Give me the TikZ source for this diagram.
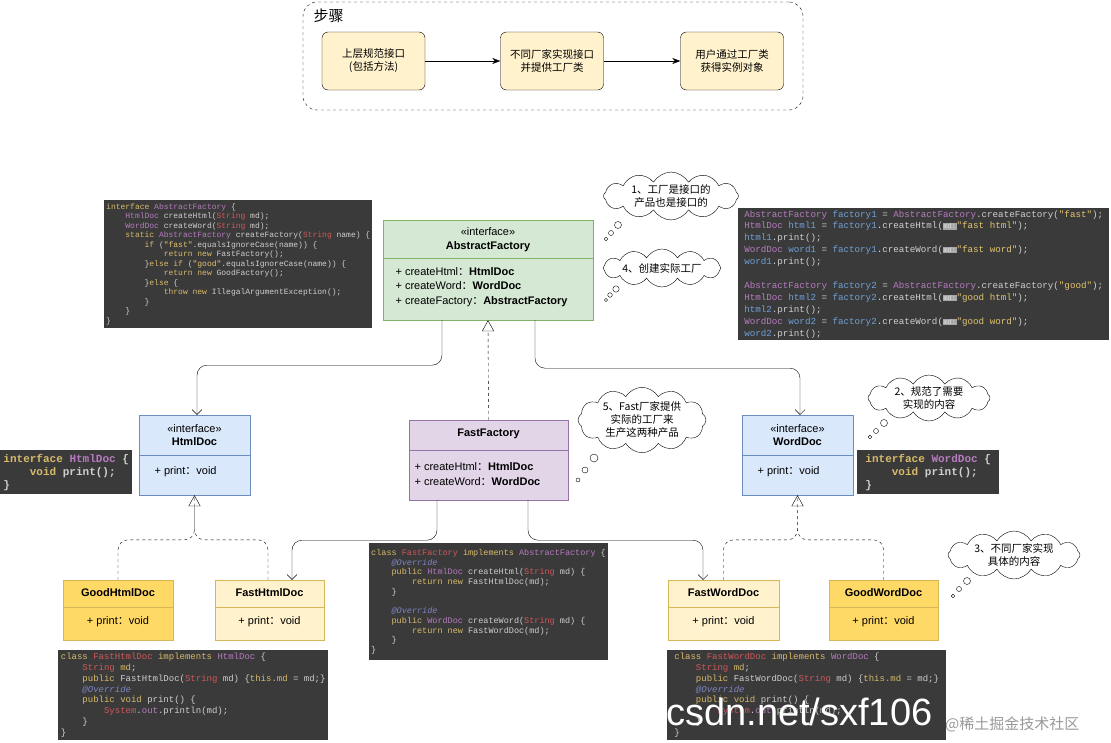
\documentclass[tikz,border=0pt]{standalone}
\usepackage{fontspec}
\setmainfont{Liberation Sans}
\setmonofont{Liberation Mono}
\newfontfamily\cjk{Noto Sans CJK SC}
\usetikzlibrary{shapes.symbols,arrows.meta}
\definecolor{yel}{HTML}{FFF2CC}\definecolor{yelS}{HTML}{D6B656}
\definecolor{gold}{HTML}{FFD966}
\definecolor{grn}{HTML}{D5E8D4}\definecolor{grnS}{HTML}{82B366}
\definecolor{blu}{HTML}{DAE8FC}\definecolor{bluS}{HTML}{6C8EBF}
\definecolor{pur}{HTML}{E1D5E7}\definecolor{purS}{HTML}{9673A6}
\definecolor{codebg}{HTML}{3A3A3A}
\definecolor{cdef}{HTML}{CFCFCF}\definecolor{ckw}{HTML}{D7BA6A}
\definecolor{cty}{HTML}{B77BC0}\definecolor{cred}{HTML}{D0585A}
\definecolor{cann}{HTML}{7F83C0}\definecolor{cvar}{HTML}{6FA0D8}
\definecolor{cstr}{HTML}{E3C46F}
\newcommand\K[1]{\textcolor{ckw}{#1}}
\newcommand\T[1]{\textcolor{cty}{#1}}
\newcommand\R[1]{\textcolor{cred}{#1}}
\newcommand\A[1]{\textcolor{cann}{\itshape #1}}
\newcommand\V[1]{\textcolor{cvar}{#1}}
\newcommand\Q[1]{\textcolor{cstr}{#1}}
\newcommand\cc{{\cjk ：}}
\newcommand\cia{\hspace*{2.4em}}
\newcommand\cib{\hspace*{4.8em}}
\newcommand\cic{\hspace*{7.2em}}
\newcommand\hint{{\setlength{\fboxsep}{0.5pt}\colorbox{gray!70}{\textcolor{gray!25}{\scriptsize md:}}}}
\tikzset{
 stepbox/.style={draw, rounded corners=6, fill=yel, minimum width=103, minimum height=58, align=center, font=\cjk\fontsize{10.5}{13}\selectfont},
 code/.style={fill=codebg, anchor=north west, inner sep=2pt, align=left, text=cdef},
 bubble/.style={cloud, cloud puffs=12, cloud puff arc=120, cloud ignores aspect, draw, fill=white, align=center, font=\cjk\fontsize{10.5}{13}\selectfont, inner sep=0pt},
 assoc/.style={rounded corners=10, -{Straight Barb[length=5,width=10]}},
 real/.style={dashed, rounded corners=10, -{Triangle[open,fill=white,length=11,width=12]}}
}
\begin{document}
\begin{tikzpicture}[x=1pt,y=-1pt, font=\fontsize{11}{13}\selectfont]
\useasboundingbox[fill=white] (0,0) rectangle (1111,742);
% steps
\node[draw, dashed, rounded corners=14, minimum width=500, minimum height=108] (stepsbox) at (553,56) {};
\node[anchor=west, font=\cjk\fontsize{15}{17}\selectfont] (stitle) at (310,16) {步骤};
\node[stepbox] (s1) at (373.5,61) {上层规范接口\\(包括方法)};
\node[stepbox] (s2) at (552,61) {不同厂家实现接口\\并提供工厂类};
\node[stepbox] (s3) at (732,61) {用户通过工厂类\\获得实例对象};
\draw[-{Stealth[length=8,width=6]}] (s1) -- (s2);
\draw[-{Stealth[length=8,width=6]}] (s2) -- (s3);
% AbstractFactory
\node[draw=grnS, fill=grn, minimum width=210, minimum height=100] (af) at (488,270) {};
\draw[grnS] (383,258) -- (593,258);
\node (afh) at (488,240) [align=center, font=\fontsize{11}{14}\selectfont] {«interface»\\\textbf{AbstractFactory}};
\node (afm) at (392,287) [anchor=west, align=left, font=\fontsize{11}{14.5}\selectfont] {+ createHtml\cc\textbf{HtmlDoc}\\+ createWord\cc\textbf{WordDoc}\\+ createFactory\cc\textbf{AbstractFactory}};
% HtmlDoc
\node[draw=bluS, fill=blu, minimum width=111, minimum height=80] (hd) at (194.5,455) {};
\draw[bluS] (139,455) -- (250,455);
\node (hdh) at (194.5,435) [align=center] {«interface»\\\textbf{HtmlDoc}};
\node (hdm) at (151,472) [anchor=west] {+ print\cc void};
% WordDoc
\node[draw=bluS, fill=blu, minimum width=111, minimum height=80] (wd) at (797.5,455) {};
\draw[bluS] (742,455) -- (853,455);
\node (wdh) at (797.5,435) [align=center] {«interface»\\\textbf{WordDoc}};
\node (wdm) at (754,472) [anchor=west] {+ print\cc void};
% FastFactory
\node[draw=purS, fill=pur, minimum width=159, minimum height=80] (ff) at (488.5,460) {};
\draw[purS] (409,450) -- (568,450);
\node (ffh) at (488.5,434) {\textbf{FastFactory}};
\node (ffm) at (411,474) [anchor=west, align=left, font=\fontsize{11}{14.5}\selectfont] {+ createHtml\cc\textbf{HtmlDoc}\\+ createWord\cc\textbf{WordDoc}};
% products
\node[draw=yelS, fill=gold, minimum width=110, minimum height=60] (gh) at (118,610) {};
\draw[yelS] (63,607) -- (173,607);
\node (ght) at (118,593) {\textbf{GoodHtmlDoc}};
\node (ghm) at (118,622) {+ print\cc void};
\node[draw=yelS, fill=yel, minimum width=109, minimum height=60] (fh) at (269.5,610) {};
\draw[yelS] (215,607) -- (324,607);
\node (fht) at (269.5,593) {\textbf{FastHtmlDoc}};
\node (fhm) at (269.5,622) {+ print\cc void};
\node[draw=yelS, fill=yel, minimum width=111, minimum height=60] (fw) at (723.5,610) {};
\draw[yelS] (668,607) -- (779,607);
\node (fwt) at (723.5,593) {\textbf{FastWordDoc}};
\node (fwm) at (723.5,622) {+ print\cc void};
\node[draw=yelS, fill=gold, minimum width=109, minimum height=60] (gw) at (883.5,610) {};
\draw[yelS] (829,607) -- (938,607);
\node (gwt) at (883.5,593) {\textbf{GoodWordDoc}};
\node (gwm) at (883.5,622) {+ print\cc void};
% connectors
\draw[assoc] ([xshift=-46]af.south) -- ++(0,45) -| ([xshift=2.5]hd.north);
\draw[assoc] ([xshift=47]af.south) -- ++(0,48) -| ([xshift=2.5]wd.north);
\draw[real] (ff.north) -- (af.south);
\draw[assoc] ([xshift=-51.5]ff.south) -- ++(0,40) -| ([xshift=22.5]fh.north);
\draw[assoc] ([xshift=39.5]ff.south) -- ++(0,40) -| ([xshift=-20.5]fw.north);
\draw[real] (gh.north) -- ++(0,-40) -| (hd.south);
\draw[dashed, rounded corners=10] ([xshift=-1.5]fh.north) -- ++(0,-40) -| (hd.south);
\draw[real] (fw.north) -- ++(0,-40) -| (wd.south);
\draw[dashed, rounded corners=10] (gw.north) -- ++(0,-40) -| (wd.south);
% code blocks
\node[code, minimum width=266, minimum height=128, font=\ttfamily\fontsize{8}{9.5}\selectfont] (c1) at (104,200) {%
\K{interface} \T{AbstractFactory} \{\\
\cia\T{HtmlDoc} createHtml(\R{String} md);\\
\cia\T{WordDoc} createWord(\R{String} md);\\
\cia\K{static} \T{AbstractFactory} createFactory(\R{String} name) \{\\
\cib\K{if} (\Q{"fast"}.equalsIgnoreCase(name)) \{\\
\cic\K{return new} FastFactory();\\
\cib\}\K{else if} (\Q{"good"}.equalsIgnoreCase(name)) \{\\
\cic\K{return new} GoodFactory();\\
\cib\}\K{else} \{\\
\cic\K{throw new} IllegalArgumentException();\\
\cib\}\\
\cia\}\\
\}};
\node[code, minimum width=371, minimum height=132, font=\ttfamily\fontsize{9.2}{11.9}\selectfont, text=cdef] (c2) at (738,208) {%
\T{AbstractFactory} \V{factory1} = \T{AbstractFactory}.createFactory(\Q{"fast"});\\
\T{HtmlDoc} \V{html1} = \V{factory1}.createHtml(\hint\Q{"fast html"});\\
\V{html1}.print();\\
\T{WordDoc} \V{word1} = \V{factory1}.createWord(\hint\Q{"fast word"});\\
\V{word1}.print();\\[11.9pt]
\T{AbstractFactory} \V{factory2} = \T{AbstractFactory}.createFactory(\Q{"good"});\\
\T{HtmlDoc} \V{html2} = \V{factory2}.createHtml(\hint\Q{"good html"});\\
\V{html2}.print();\\
\T{WordDoc} \V{word2} = \V{factory2}.createWord(\hint\Q{"good word"});\\
\V{word2}.print();};
\node[code, minimum width=132, minimum height=44, font=\ttfamily\bfseries\fontsize{11}{13}\selectfont] (c3) at (0,450) {%
\K{interface} \T{HtmlDoc} \{\\
\cia\K{void} print();\\
\}};
\node[code, minimum width=142, minimum height=44, font=\ttfamily\bfseries\fontsize{11}{13}\selectfont] (c4) at (857,450) {%
\K{interface} \T{WordDoc} \{\\
\cia\K{void} print();\\
\}};
\node[code, minimum width=236, minimum height=117, font=\ttfamily\fontsize{8.5}{9.7}\selectfont] (c5) at (369,543) {%
\K{class} \R{FastFactory} \K{implements} \T{AbstractFactory} \{\\
\cia\A{@Override}\\
\cia\K{public} \T{HtmlDoc} createHtml(\R{String} md) \{\\
\cib\K{return new} FastHtmlDoc(md);\\
\cia\}\\[9.7pt]
\cia\A{@Override}\\
\cia\K{public} \T{WordDoc} createWord(\R{String} md) \{\\
\cib\K{return new} FastWordDoc(md);\\
\cia\}\\
\}};
\node[code, minimum width=270, minimum height=90, font=\ttfamily\fontsize{9}{10.8}\selectfont] (c6) at (58,650) {%
\K{class} \R{FastHtmlDoc} \K{implements} \T{HtmlDoc} \{\\
\cia\R{String} \K{md};\\
\cia\K{public} FastHtmlDoc(\R{String} md) \{\K{this.md} = md;\}\\
\cia\A{@Override}\\
\cia\K{public void} print() \{\\
\cib\R{System}.\T{out}.println(md);\\
\cia\}\\
\}};
\node[code, minimum width=279, minimum height=90, font=\ttfamily\fontsize{9}{10.8}\selectfont] (c7) at (667,650) {%
\K{class} \R{FastWordDoc} \K{implements} \T{WordDoc} \{\\
\cia\R{String} \K{md};\\
\cia\K{public} FastWordDoc(\R{String} md) \{\K{this.md} = md;\}\\
\cia\A{@Override}\\
\cia\K{public void} print() \{\\
\cib\R{System}.\T{out}.println(md);\\
\cia\}\\
\}};
% bubbles
\node[bubble, minimum width=135, minimum height=46] (b1) at (671,196) {1、工厂是接口的\\产品也是接口的};
\draw[fill=white] (618,225) circle (3.5) (611,233) circle (2.5) (606,239) circle (1.8);
\node[bubble, minimum width=118, minimum height=38] (b4) at (662,268) {4、创建实际工厂};
\draw[fill=white] (616,289) circle (3.2) (610,295) circle (2.3) (606,300) circle (1.6);
\node[bubble, minimum width=128, minimum height=62] (b5) at (642,420) {5、Fast厂家提供\\实际的工厂来\\生产这两种产品};
\draw[fill=white] (594,458) circle (4) (585,470) circle (3) (578,480) circle (2);
\node[bubble, minimum width=122, minimum height=46] (b2) at (929,398) {2、规范了需要\\实现的内容};
\draw[fill=white] (884,423) circle (3.5) (876,431) circle (2.5) (870,437) circle (1.8);
\node[bubble, minimum width=132, minimum height=48] (b3) at (1014,555) {3、不同厂家实现\\具体的内容};
\draw[fill=white] (967,581) circle (3.5) (959,589) circle (2.5) (953,596) circle (1.8);
% watermarks
\node[anchor=west, text=white, font=\fontsize{38}{40}\selectfont, inner sep=0] (wm1) at (666,712) {csdn.net/sxf106};
\node[anchor=west, text=gray!80, font=\cjk\fontsize{15}{17}\selectfont, inner sep=0] (wm2) at (945,724) {@稀土掘金技术社区};
\end{tikzpicture}
\end{document}
